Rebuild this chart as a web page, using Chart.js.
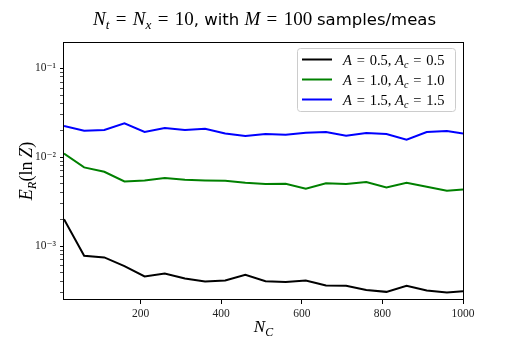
<!DOCTYPE html>
<html lang="en">
<head>
<meta charset="UTF-8">
<title>E_R vs N_C</title>
<script src="https://cdn.jsdelivr.net/npm/chart.js"></script>
<style>
  body { margin: 0; background: #fff; }
</style>
</head>
<body>
<canvas id="chart" width="515" height="344"></canvas>
<script>
// sample counts N_C
const nC = [10, 60, 110, 160, 210, 260, 310, 360, 410, 460, 510, 560, 610, 660, 710, 760, 810, 860, 910, 960, 1000];

// E_R(ln Z) for each (A, A_c)
const errA05 = [0.00200, 0.000776, 0.000745, 0.000594, 0.000455, 0.000491, 0.000431, 0.000399, 0.000410, 0.000474, 0.000402,
                0.000395, 0.000410, 0.000360, 0.000357, 0.000321, 0.000305, 0.000357, 0.000316, 0.000300, 0.000310];
const errA10 = [0.0110, 0.00767, 0.00686, 0.00533, 0.00548, 0.00582, 0.00556, 0.00548, 0.00542, 0.00515, 0.00498,
                0.00501, 0.00441, 0.00510, 0.00498, 0.00525, 0.00457, 0.00515, 0.00465, 0.00419, 0.00434];
const errA15 = [0.0224, 0.0198, 0.0202, 0.0240, 0.0192, 0.0213, 0.0202, 0.0209, 0.0185, 0.0173, 0.0182,
                0.0179, 0.0188, 0.0192, 0.0174, 0.0187, 0.0182, 0.0157, 0.0192, 0.0197, 0.0185];

const aValues = ['0.5', '1.0', '1.5'];
const seriesColors = ['#000000', '#008000', '#0000ff'];

const xTicks = [200, 400, 600, 800, 1000];
const yMajor = [1e-3, 1e-2, 1e-1];
const yMajorLabels = ['10\u207B\u00B3', '10\u207B\u00B2', '10\u207B\u00B9'];

const SERIF = '"Liberation Serif", "DejaVu Serif", serif';
const SANS = '"DejaVu Sans", sans-serif';
const EQ = '\u2004=\u2004';

// draw a run of text pieces: f = 'i' italic serif, 'r' roman serif, 's' sans; sub = subscript
function drawRich(ctx, parts, x, y, size, align, sansSize) {
  const fontFor = p => {
    let s = p.f === 's' ? (sansSize || size) : size;
    if (p.sub) s *= 0.7;
    const fam = p.f === 's' ? SANS : SERIF;
    return (p.f === 'i' ? 'italic ' : '') + s + 'px ' + fam;
  };
  let w = 0;
  parts.forEach(p => { ctx.font = fontFor(p); p.w = ctx.measureText(p.t).width; w += p.w; });
  let cx = align === 'center' ? x - w / 2 : x;
  ctx.textAlign = 'left';
  ctx.textBaseline = 'alphabetic';
  parts.forEach(p => {
    ctx.font = fontFor(p);
    ctx.fillText(p.t, cx, y + (p.sub ? size * 0.22 : 0));
    cx += p.w;
  });
  return w;
}

const decor = {
  id: 'decor',
  afterDraw(chart) {
    const ctx = chart.ctx;
    const a = chart.chartArea;
    ctx.save();

    // frame
    ctx.strokeStyle = '#000';
    ctx.lineWidth = 1;
    ctx.strokeRect(Math.round(a.left) - 0.5, Math.round(a.top) + 0.5,
                   Math.round(a.right - a.left) + 1, Math.round(a.bottom - a.top) - 1);

    ctx.fillStyle = '#000';
    // title
    drawRich(ctx, [
      {t: 'N', f: 'i'}, {t: 't', f: 'i', sub: true}, {t: EQ, f: 'r'},
      {t: 'N', f: 'i'}, {t: 'x', f: 'i', sub: true}, {t: EQ + '10', f: 'r'},
      {t: ', with ', f: 's'}, {t: 'M', f: 'i'}, {t: EQ + '100 ', f: 'r'}, {t: 'samples/meas', f: 's'}
    ], (a.left + a.right) / 2 + 1, 25, 19, 'center', 16.5);

    // x label
    drawRich(ctx, [{t: 'N', f: 'i'}, {t: 'C', f: 'i', sub: true}], (a.left + a.right) / 2, 332, 17, 'center');

    // y label
    ctx.save();
    ctx.translate(32, (a.top + a.bottom) / 2);
    ctx.rotate(-Math.PI / 2);
    drawRich(ctx, [{t: 'E', f: 'i'}, {t: 'R', f: 'i', sub: true}, {t: '(ln\u2009', f: 'r'}, {t: 'Z', f: 'i'}, {t: ')', f: 'r'}],
             0, 0, 18, 'center');
    ctx.restore();

    // legend
    const lx = 297.5, ly = 48.5, lw = 158, lh = 63;
    ctx.beginPath();
    ctx.roundRect(lx, ly, lw, lh, 3);
    ctx.fillStyle = 'rgba(255,255,255,0.8)';
    ctx.fill();
    ctx.strokeStyle = '#cccccc';
    ctx.lineWidth = 1;
    ctx.stroke();
    chart.data.datasets.forEach((ds, i) => {
      const ry = 59.5 + i * 20;
      ctx.beginPath();
      ctx.moveTo(302, ry);
      ctx.lineTo(332, ry);
      ctx.strokeStyle = ds.borderColor;
      ctx.lineWidth = 2;
      ctx.stroke();
      ctx.fillStyle = '#000';
      drawRich(ctx, [
        {t: 'A', f: 'i'}, {t: EQ + aValues[i] + ', ', f: 'r'},
        {t: 'A', f: 'i'}, {t: 'c', f: 'i', sub: true}, {t: EQ + aValues[i], f: 'r'}
      ], 343, ry + 5, 14.5, 'left');
    });

    ctx.restore();
  }
};

const datasets = [errA05, errA10, errA15].map((vals, i) => ({
  label: 'A = ' + aValues[i] + ', A_c = ' + aValues[i],
  data: nC.map((x, j) => ({x: x, y: vals[j]})),
  borderColor: seriesColors[i],
  backgroundColor: seriesColors[i],
  borderWidth: 2,
  pointRadius: 0,
  tension: 0,
  fill: false
}));

new Chart(document.getElementById('chart'), {
  type: 'line',
  data: { datasets: datasets },
  options: {
    responsive: false,
    animation: false,
    layout: { padding: { top: 42, right: 52, bottom: 0, left: 0 } },
    plugins: {
      legend: { display: false },
      title: { display: false },
      tooltip: { enabled: false }
    },
    scales: {
      x: {
        type: 'linear',
        min: 10,
        max: 1000,
        afterFit: s => { s.height = 44; },
        afterBuildTicks: s => { s.ticks = xTicks.map(v => ({value: v})); },
        grid: { drawOnChartArea: false, drawTicks: true, tickLength: 4, tickColor: '#000' },
        border: { display: false },
        ticks: {
          autoSkip: false,
          maxRotation: 0,
          padding: 3,
          color: '#222',
          font: { family: SERIF, size: 11.5 },
          callback: v => String(v)
        }
      },
      y: {
        type: 'logarithmic',
        min: 2.47e-4,
        max: 0.198,
        afterFit: s => { s.width = 64; },
        afterBuildTicks: s => {
          const t = [];
          yMajor.forEach(base => {
            for (let m = 1; m <= 9; m++) {
              const v = base / 10 * m;
              if (v >= s.min && v <= s.max) t.push({value: v, major: m === 1});
            }
          });
          t.push({value: 1e-1, major: true});
          s.ticks = t.filter((k, i, arr) => arr.findIndex(o => Math.abs(o.value - k.value) < 1e-12) === i);
        },
        grid: {
          drawOnChartArea: false, drawTicks: true, tickLength: 4, tickColor: '#000',
          tickWidth: c => (c.tick && c.tick.major ? 1 : 0.7)
        },
        border: { display: false },
        ticks: {
          autoSkip: false,
          padding: 4,
          color: '#222',
          font: { family: SERIF, size: 11.5 },
          callback: function (v) {
            const k = yMajor.findIndex(m => Math.abs(m - v) / m < 1e-6);
            return k >= 0 ? yMajorLabels[k] : '';
          }
        }
      }
    }
  },
  plugins: [decor]
});
</script>
</body>
</html>
